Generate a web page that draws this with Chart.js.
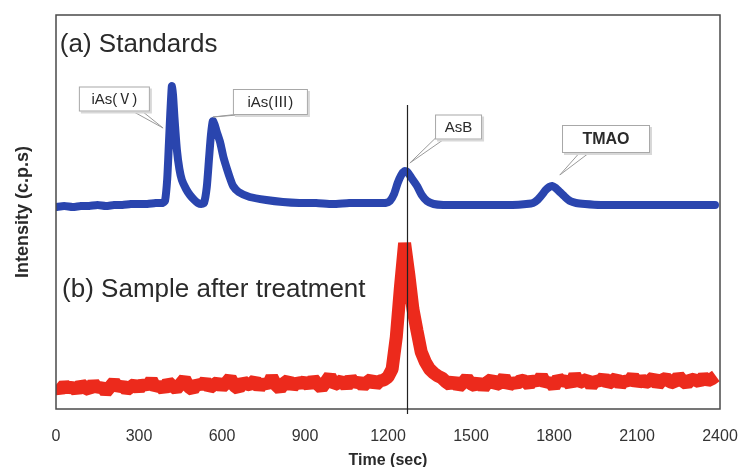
<!DOCTYPE html>
<html>
<head>
<meta charset="utf-8">
<title>Arsenic speciation chromatogram</title>
<script src="https://cdn.jsdelivr.net/npm/chart.js@4.4.1/dist/chart.umd.min.js"></script>
<style>
  html, body { margin: 0; padding: 0; background: #fff; }
  canvas { display: block; }
</style>
</head>
<body>
<canvas id="chromChart" width="741" height="467"></canvas>
<script>
// Tick labels of the time axis (sec)
const timeTicks = [0, 300, 600, 900, 1200, 1500, 1800, 2100, 2400];

// (a) Standards
const standardTime = [
  0, 30, 60, 90, 120, 150, 180, 210, 240, 270, 300, 330, 360, 385,
  394, 402, 408, 413, 417, 419, 423, 428, 437, 446, 455, 470, 484, 500, 513, 525,
  535, 545, 553, 560, 567, 574, 580, 593, 605, 618, 630, 640, 660, 700, 760, 820,
  880, 940, 1000, 1060, 1120, 1170, 1190, 1207, 1222, 1235, 1248, 1260, 1270, 1285,
  1305, 1322, 1341, 1365, 1400, 1470, 1530, 1590, 1650, 1700, 1724, 1740, 1756, 1770,
  1783, 1793, 1806, 1821, 1840, 1858, 1880, 1912, 1970, 2030, 2090, 2150, 2210, 2270,
  2330, 2382
];
const standardIntensity = [
  202, 203, 202, 203, 203, 204, 203, 204, 204, 205, 205, 205, 206, 206,
  208, 230, 265, 295, 316, 323, 314, 292, 259, 240, 229, 220, 214, 209, 206, 205,
  206, 222, 250, 274, 288, 284, 278, 267, 252, 240, 230, 223, 217, 212, 209, 207,
  206, 206, 205, 206, 206, 206, 206, 208, 215, 226, 234, 238, 237, 231,
  223, 214, 208, 205, 204, 204, 204, 204, 204, 205, 206, 209, 214, 219,
  222, 223, 221, 217, 212, 208, 206, 205, 204, 204, 204, 204, 204, 204,
  204, 204
];

// (b) Sample after treatment - red trace, one reading every 15 sec from 0
const sampleStep = 15;
const sampleIntensity = [
  22, 19, 24, 20, 23, 18, 25, 21, 19, 26, 20, 23, 17, 22, 27, 21, 24, 19, 22, 25,
  20, 26, 22, 29, 21, 24, 19, 27, 23, 20, 25, 30, 22, 19, 26, 23, 28, 21, 24, 27,
  22, 26, 31, 23, 20, 28, 24, 25, 29, 21, 27, 23, 32, 24, 20, 26, 29, 22, 27, 25,
  28, 23, 30, 25, 21, 27, 33, 24, 26, 29, 22, 31, 25, 28, 23, 27, 30, 24, 28, 29,
  32, 40, 72, 122, 166, 135, 100, 78, 57, 47, 40, 36, 33, 31,
  27, 24, 29, 22, 26, 31, 25, 23, 28, 21, 27, 30, 24, 26, 32, 23, 27, 25, 29, 28,
  24, 30, 26, 33, 25, 28, 22, 31, 27, 29, 24, 34, 26, 28, 30, 23, 29, 27, 32, 25,
  28, 31, 24, 29, 27, 33, 25, 30, 26, 28, 32, 24, 29, 31, 27, 26, 33, 28, 25, 30,
  29, 27, 32, 28, 30, 33
];

// AsB retention time, marked with a vertical line
const markerTime = 1269;

// Peak labels: box centre and callout tip in (time, intensity)
const peakLabels = [
  { text: "iAs(Ⅴ)", cx: 211, cy: 310, w: 71, h: 25, tipX: 387, tipY: 281 },
  { text: "iAs(Ⅲ)", cx: 775, cy: 307, w: 75, h: 26, tipX: 567, tipY: 292 },
  { text: "AsB", cx: 1455, cy: 282, w: 47, h: 25, tipX: 1279, tipY: 246 },
  { text: "TMAO", cx: 1988, cy: 270, w: 88, h: 28, tipX: 1821, tipY: 234, bold: true },
];

const FONT = "'Liberation Sans', Arial, 'Noto Sans CJK JP', sans-serif";
Chart.defaults.font.family = FONT;

const chromPlugin = {
  id: "chromAnnotations",
  afterDatasetsDraw(chart) {
    const { ctx, chartArea, scales } = chart;
    const xs = scales.x;
    const ys = scales.y;
    ctx.save();

    // plot frame
    ctx.strokeStyle = "#4a4a4a";
    ctx.lineWidth = 1.5;
    ctx.strokeRect(chartArea.left, chartArea.top, chartArea.width, chartArea.height);

    // AsB marker line, runs a little below the frame
    const mx = Math.round(xs.getPixelForValue(markerTime)) + 0.5;
    ctx.strokeStyle = "#222";
    ctx.lineWidth = 1.2;
    ctx.beginPath();
    ctx.moveTo(mx, ys.getPixelForValue(304));
    ctx.lineTo(mx, chartArea.bottom + 5);
    ctx.stroke();

    // panel titles
    ctx.fillStyle = "#2a2a2a";
    ctx.font = "26px " + FONT;
    ctx.textBaseline = "middle";
    ctx.textAlign = "left";
    ctx.fillText("(a) Standards", xs.getPixelForValue(14), ys.getPixelForValue(364));
    ctx.fillText("(b) Sample after treatment", xs.getPixelForValue(22), ys.getPixelForValue(119));

    // callout boxes
    peakLabels.forEach((lbl) => {
      const cx = xs.getPixelForValue(lbl.cx);
      const cy = ys.getPixelForValue(lbl.cy);
      const tx = xs.getPixelForValue(lbl.tipX);
      const ty = ys.getPixelForValue(lbl.tipY);
      const left = cx - lbl.w / 2;
      const top = cy - lbl.h / 2;

      // tail
      let bx = cx + (tx - cx) * 0.45;
      bx = Math.max(left + 5, Math.min(left + lbl.w - 5, bx));
      const by = top + lbl.h - 1;
      ctx.fillStyle = "#fff";
      ctx.strokeStyle = "#9a9a9a";
      ctx.lineWidth = 1;
      ctx.beginPath();
      ctx.moveTo(bx - 5, by);
      ctx.lineTo(tx, ty);
      ctx.lineTo(bx + 5, by);
      ctx.closePath();
      ctx.fill();
      ctx.stroke();

      // box with a soft shadow
      ctx.fillStyle = "#d8d8d8";
      ctx.fillRect(left + 2, top + 2, lbl.w, lbl.h);
      ctx.fillStyle = "#fff";
      ctx.fillRect(left, top, lbl.w, lbl.h);
      ctx.strokeStyle = "#a8a8a8";
      ctx.strokeRect(left + 0.5, top + 0.5, lbl.w - 1, lbl.h - 1);

      ctx.fillStyle = "#2a2a2a";
      ctx.font = (lbl.bold ? "bold 16px " : "15px ") + FONT;
      ctx.textAlign = "center";
      ctx.fillText(lbl.text, cx, cy + 1);
    });

    ctx.restore();
  },
};

const standardPoints = standardTime.map((t, i) => ({ x: t, y: standardIntensity[i] }));
const samplePoints = sampleIntensity.map((v, i) => ({ x: i * sampleStep, y: v }));

new Chart(document.getElementById("chromChart"), {
  type: "line",
  data: {
    datasets: [
      {
        label: "(b) Sample after treatment",
        data: samplePoints,
        borderColor: "#ec2a1c",
        borderWidth: 13,
        borderJoinStyle: "bevel",
        borderCapStyle: "butt",
        pointRadius: 0,
        tension: 0,
      },
      {
        label: "(a) Standards",
        data: standardPoints,
        borderColor: "#2a45ae",
        borderWidth: 8,
        borderJoinStyle: "round",
        borderCapStyle: "round",
        pointRadius: 0,
        tension: 0.2,
      },
    ],
  },
  options: {
    responsive: false,
    animation: false,
    layout: { padding: { left: 0, right: 21, top: 15, bottom: 0 } },
    plugins: {
      legend: { display: false },
      tooltip: { enabled: false },
    },
    scales: {
      x: {
        type: "linear",
        min: 0,
        max: 2400,
        grid: { display: false, drawTicks: false },
        border: { display: false },
        afterBuildTicks: (scale) => {
          scale.ticks = timeTicks.map((v) => ({ value: v }));
        },
        afterFit: (scale) => {
          scale.height = 58;
          scale.paddingLeft = 0;
          scale.paddingRight = 0;
        },
        ticks: {
          padding: 18,
          color: "#333",
          font: { size: 16 },
          maxRotation: 0,
          autoSkip: false,
          callback: (value) => String(value),
        },
        title: {
          display: true,
          text: "Time (sec)",
          color: "#2a2a2a",
          font: { size: 16, weight: "bold" },
          padding: { top: 0, bottom: -3 },
        },
      },
      y: {
        min: 0,
        max: 394,
        grid: { display: false, drawTicks: false },
        border: { display: false },
        ticks: { display: false },
        afterFit: (scale) => {
          scale.width = 56;
        },
        title: {
          display: true,
          text: "Intensity (c.p.s)",
          color: "#2a2a2a",
          font: { size: 18, weight: "bold" },
          padding: { top: 12, bottom: 0 },
        },
      },
    },
  },
  plugins: [chromPlugin],
});
</script>
</body>
</html>
